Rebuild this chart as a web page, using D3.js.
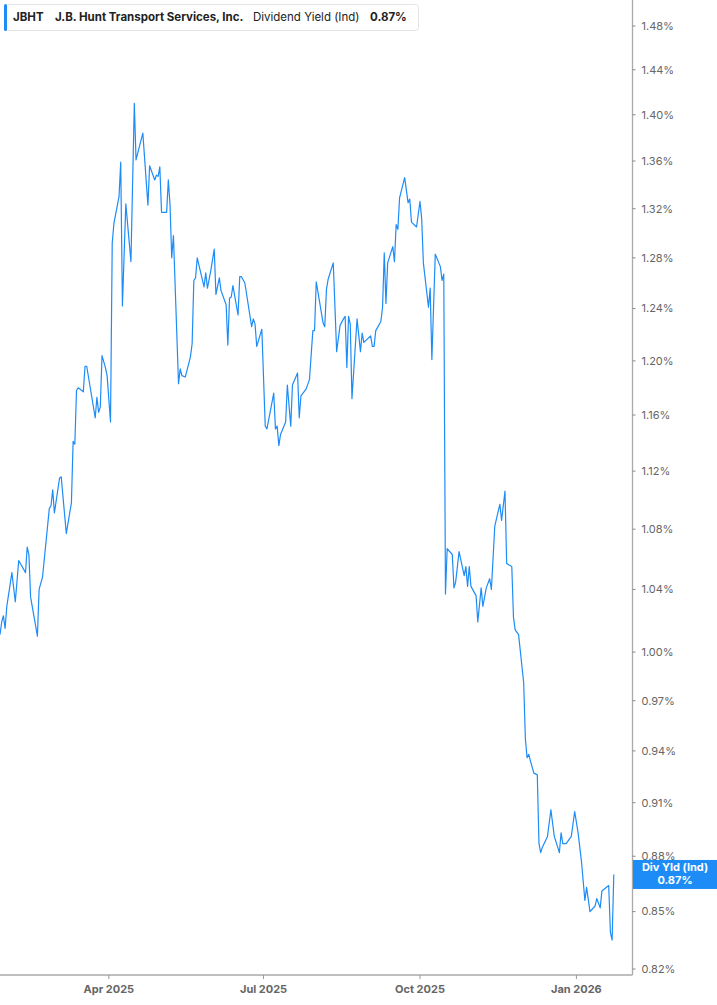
<!DOCTYPE html>
<html>
<head>
<meta charset="utf-8">
<script src="https://cdn.jsdelivr.net/npm/d3@7"></script>
<style>
  body { margin: 0; background: #fff; }
  svg { display: block; font-family: Inter, "Noto Sans", sans-serif; }
</style>
</head>
<body>
<svg id="chart" width="717" height="1005"></svg>
<script>
// dividend yield (ind), %
var dates = [
  "2025-01-27","2025-01-28","2025-01-29","2025-01-30","2025-01-31","2025-02-03","2025-02-05","2025-02-07",
  "2025-02-11","2025-02-12","2025-02-13","2025-02-14","2025-02-18","2025-02-19","2025-02-21","2025-02-25",
  "2025-02-26","2025-02-27","2025-02-28","2025-03-03","2025-03-04","2025-03-07","2025-03-10","2025-03-11",
  "2025-03-12","2025-03-13","2025-03-14","2025-03-17","2025-03-18","2025-03-19","2025-03-24","2025-03-25",
  "2025-03-26","2025-03-27","2025-03-28","2025-03-30","2025-03-31","2025-04-02","2025-04-03","2025-04-04",
  "2025-04-07","2025-04-08","2025-04-09","2025-04-11","2025-04-14","2025-04-16","2025-04-17","2025-04-21",
  "2025-04-24","2025-04-25","2025-04-28","2025-04-29","2025-04-30","2025-05-01","2025-05-02","2025-05-05",
  "2025-05-06","2025-05-07","2025-05-08","2025-05-09","2025-05-12","2025-05-13","2025-05-14","2025-05-16",
  "2025-05-19","2025-05-20","2025-05-21","2025-05-22","2025-05-23","2025-05-27","2025-05-28","2025-05-29",
  "2025-05-31","2025-06-02","2025-06-03","2025-06-05","2025-06-06","2025-06-09","2025-06-10","2025-06-11",
  "2025-06-12","2025-06-13","2025-06-16","2025-06-17","2025-06-18","2025-06-20","2025-06-24","2025-06-25",
  "2025-06-26","2025-06-27","2025-06-30","2025-07-02","2025-07-03","2025-07-07","2025-07-08","2025-07-09",
  "2025-07-10","2025-07-11","2025-07-14","2025-07-15","2025-07-17","2025-07-18","2025-07-21","2025-07-22",
  "2025-07-23","2025-07-26","2025-07-28","2025-07-30","2025-07-31","2025-08-01","2025-08-05","2025-08-06",
  "2025-08-07","2025-08-08","2025-08-11","2025-08-13","2025-08-15","2025-08-17","2025-08-18","2025-08-19",
  "2025-08-20","2025-08-21","2025-08-22","2025-08-25","2025-08-27","2025-08-28","2025-08-29","2025-09-02",
  "2025-09-03","2025-09-04","2025-09-05","2025-09-08","2025-09-09","2025-09-10","2025-09-11","2025-09-12",
  "2025-09-15","2025-09-16","2025-09-17","2025-09-18","2025-09-19","2025-09-22","2025-09-24","2025-09-25",
  "2025-09-26","2025-09-29","2025-10-01","2025-10-02","2025-10-03","2025-10-06","2025-10-07","2025-10-08",
  "2025-10-10","2025-10-13","2025-10-14","2025-10-15","2025-10-16","2025-10-17","2025-10-20","2025-10-21",
  "2025-10-22","2025-10-24","2025-10-27","2025-10-28","2025-10-29","2025-10-30","2025-10-31","2025-11-03",
  "2025-11-04","2025-11-06","2025-11-07","2025-11-09","2025-11-11","2025-11-12","2025-11-14","2025-11-17",
  "2025-11-18","2025-11-20","2025-11-21","2025-11-24","2025-11-25","2025-11-26","2025-11-28","2025-12-01",
  "2025-12-02","2025-12-03","2025-12-04","2025-12-05","2025-12-07","2025-12-09","2025-12-10","2025-12-11",
  "2025-12-12","2025-12-15","2025-12-17","2025-12-19","2025-12-22","2025-12-23","2025-12-24","2025-12-26",
  "2025-12-29","2025-12-31","2026-01-02","2026-01-04","2026-01-06","2026-01-07","2026-01-09","2026-01-12",
  "2026-01-13","2026-01-15","2026-01-16","2026-01-20","2026-01-21","2026-01-22","2026-01-23"
];
var yields = [
  1.011,1.019,1.023,1.015,1.029,1.051,1.032,1.059,
  1.051,1.068,1.063,1.035,1.010,1.040,1.048,1.094,
  1.096,1.107,1.091,1.115,1.116,1.077,1.098,1.141,
  1.139,1.178,1.180,1.177,1.196,1.196,1.158,1.173,
  1.162,1.166,1.204,1.195,1.189,1.155,1.292,1.308,
  1.330,1.359,1.242,1.324,1.277,1.410,1.361,1.384,
  1.323,1.356,1.344,1.348,1.347,1.355,1.317,1.317,
  1.344,1.323,1.280,1.298,1.183,1.194,1.189,1.188,
  1.203,1.213,1.262,1.264,1.280,1.257,1.268,1.256,
  1.270,1.287,1.251,1.264,1.254,1.243,1.212,1.248,
  1.249,1.258,1.235,1.265,1.265,1.260,1.226,1.232,
  1.228,1.211,1.224,1.152,1.150,1.176,1.150,1.152,
  1.138,1.146,1.155,1.182,1.152,1.182,1.191,1.158,
  1.174,1.179,1.186,1.223,1.223,1.261,1.229,1.226,
  1.255,1.263,1.276,1.207,1.227,1.232,1.234,1.195,
  1.234,1.228,1.172,1.232,1.207,1.221,1.214,1.219,
  1.211,1.211,1.223,1.230,1.241,1.284,1.244,1.276,
  1.289,1.277,1.307,1.303,1.329,1.346,1.325,1.328,
  1.309,1.305,1.326,1.312,1.276,1.241,1.256,1.201,
  1.283,1.273,1.262,1.267,1.037,1.067,1.063,1.041,
  1.045,1.065,1.049,1.055,1.042,1.055,1.042,1.036,
  1.019,1.041,1.029,1.041,1.047,1.040,1.082,1.097,
  1.086,1.106,1.057,1.055,1.022,1.014,1.011,0.981,
  0.947,0.936,0.938,0.934,0.927,0.926,0.887,0.882,
  0.885,0.891,0.906,0.891,0.882,0.893,0.887,0.887,
  0.891,0.905,0.893,0.877,0.856,0.863,0.850,0.853,
  0.857,0.852,0.861,0.864,0.839,0.835,0.870
];
var yTicks = [0.82,0.85,0.88,0.91,0.94,0.97,1.00,1.04,1.08,1.12,1.16,1.20,1.24,1.28,1.32,1.36,1.40,1.44,1.48];
var xTicks = ["2025-04-01","2025-07-01","2025-10-01","2026-01-01"];

var parse = d3.timeParse("%Y-%m-%d");
var data = dates.map(function(d, i) { return {date: parse(d), v: yields[i]}; });
var last = data[data.length - 1];

var W = 717, H = 1005;
var plotR = 632.5, plotB = 975;
var blue = "#1e8cf7";

var svg = d3.select("#chart");

var x = d3.scaleTime()
    .domain([parse("2025-01-27"), parse("2026-02-03")])
    .range([0, plotR]);

var y = d3.scaleLog()
    .domain([0.82, 1.48])
    .range([969, 26]);

svg.append("clipPath").attr("id", "clip")
  .append("rect").attr("x", 0).attr("y", 0).attr("width", plotR).attr("height", plotB);

var line = d3.line()
    .x(function(d) { return x(d.date); })
    .y(function(d) { return y(d.v); });

svg.append("path")
    .datum(data)
    .attr("clip-path", "url(#clip)")
    .attr("fill", "none")
    .attr("stroke", blue)
    .attr("stroke-width", 1.2)
    .attr("stroke-linejoin", "round")
    .attr("d", line);

// right axis
var yAxis = svg.append("g").attr("transform", "translate(" + plotR + ",0)");
yAxis.append("line")
    .attr("x1", 0).attr("x2", 0).attr("y1", 0).attr("y2", plotB)
    .attr("stroke", "#aaa").attr("stroke-width", 1.3);
var yt = yAxis.selectAll("g.tick").data(yTicks).enter().append("g")
    .attr("class", "tick")
    .attr("transform", function(d) { return "translate(0," + y(d) + ")"; });
yt.append("line").attr("x1", 0).attr("x2", 3).attr("stroke", "#888");
yt.append("text")
    .attr("x", 9).attr("dy", "0.35em")
    .attr("font-size", 11).attr("fill", "#666")
    .text(function(d) { return d.toFixed(2) + "%"; });

// bottom axis
var xAxis = svg.append("g").attr("transform", "translate(0," + plotB + ")");
xAxis.append("line")
    .attr("x1", 0).attr("x2", plotR).attr("y1", 0).attr("y2", 0)
    .attr("stroke", "#aaa").attr("stroke-width", 1.5);
var xt = xAxis.selectAll("g.tick").data(xTicks.map(parse)).enter().append("g")
    .attr("class", "tick")
    .attr("transform", function(d) { return "translate(" + x(d) + ",0)"; });
xt.append("line").attr("y1", 0).attr("y2", 4).attr("stroke", "#999");
xt.append("text")
    .attr("y", 18).attr("text-anchor", "middle")
    .attr("font-size", 11).attr("font-weight", "bold").attr("fill", "#666")
    .text(d3.timeFormat("%b %Y"));

// last value label
var ly = y(last.v);
svg.append("rect")
    .attr("x", plotR + 0.5).attr("y", ly - 14.5).attr("width", W - plotR).attr("height", 29)
    .attr("fill", blue);
svg.append("text")
    .attr("x", 675).attr("y", ly - 3).attr("text-anchor", "middle")
    .attr("font-size", 11).attr("font-weight", "bold").attr("fill", "#fff")
    .text("Div Yld (Ind)");
svg.append("text")
    .attr("x", 675).attr("y", ly + 10).attr("text-anchor", "middle")
    .attr("font-size", 11).attr("font-weight", "bold").attr("fill", "#fff")
    .text(last.v.toFixed(2) + "%");

// header
var head = svg.append("g");
head.append("rect")
    .attr("x", 4.5).attr("y", 4.5).attr("width", 414).attr("height", 26).attr("rx", 3)
    .attr("fill", "#fff").attr("stroke", "#e4e4e4");
head.append("rect")
    .attr("x", 4).attr("y", 4).attr("width", 3).attr("height", 27).attr("rx", 1.5)
    .attr("fill", blue);
var parts = [
  {t: "JBHT", x: 13, w: "bold"},
  {t: "J.B. Hunt Transport Services, Inc.", x: 55, w: "bold"},
  {t: "Dividend Yield (Ind)", x: 253, w: "normal"},
  {t: last.v.toFixed(2) + "%", x: 370, w: "bold"}
];
head.selectAll("text.h").data(parts).enter().append("text")
    .attr("class", "h")
    .attr("x", function(d) { return d.x; }).attr("y", 21)
    .attr("font-size", 11.5).attr("font-weight", function(d) { return d.w; })
    .attr("fill", "#222")
    .text(function(d) { return d.t; });
</script>
</body>
</html>
